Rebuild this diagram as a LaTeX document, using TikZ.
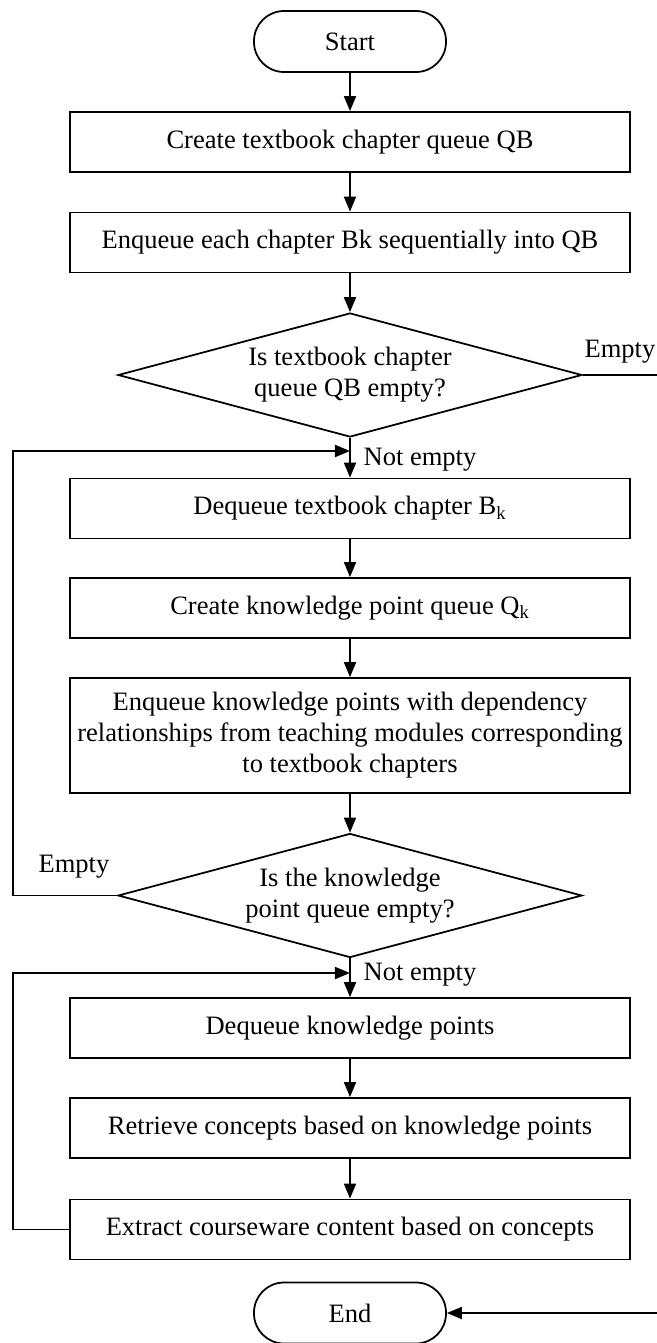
\documentclass[tikz,border=0pt]{standalone}
\usepackage{fontspec}
\setmainfont{Liberation Serif}
\usepackage{tikz}
\usetikzlibrary{arrows.meta, positioning, shapes.geometric}

\begin{document}
\begin{tikzpicture}[
  font=\fontsize{15.1pt}{17.6pt}\selectfont,
  proc/.style={draw, line width=1pt, minimum width=11.2cm, minimum height=1.2cm,
               align=center, inner sep=1pt},
  term/.style={draw, line width=1pt, rounded corners=0.6cm,
               minimum width=3.84cm, minimum height=1.22cm},
  decide/.style={draw, diamond, line width=1pt, aspect=3.74, inner sep=0pt,
                 minimum width=9.28cm, minimum height=2.48cm, align=center},
  arr/.style={-{Triangle[length=0.3cm, width=0.24cm]}, line width=1pt},
  lbl/.style={inner sep=1pt}
]
\useasboundingbox (-7,0) rectangle (6.14,-26.86);

\node[term]   (start) at (0,-0.83)  {Start};
\node[proc]   (mkqb)  at (0,-2.84)  {Create textbook chapter queue QB};
\node[proc]   (enqb)  at (0,-4.85)  {Enqueue each chapter Bk sequentially into QB};
\node[decide] (isqb)  at (0,-7.5)   {Is textbook chapter\\queue QB empty?};
\node[proc]   (deqb)  at (0,-10.17) {Dequeue textbook chapter B\textsubscript{k}};
\node[proc]   (mkqk)  at (0,-12.16) {Create knowledge point queue Q\textsubscript{k}};
\node[proc, minimum height=2.3cm] (enqk) at (0,-14.71)
  {Enqueue knowledge points with dependency\\relationships from teaching modules corresponding\\to textbook chapters};
\node[decide] (iskp)  at (0,-17.91) {Is the knowledge\\point queue empty?};
\node[proc]   (deqk)  at (0,-20.56) {Dequeue knowledge points};
\node[proc]   (conc)  at (0,-22.56) {Retrieve concepts based on knowledge points};
\node[proc]   (extr)  at (0,-24.59) {Extract courseware content based on concepts};
\node[term]   (fin)   at (0,-26.26) {End};

% junctions and loose ends
\coordinate (j1)   at (0,-9.02);
\coordinate (j2)   at (0,-19.46);
\coordinate (lx)   at (-6.74,0);
\coordinate (outR) at (6.14,-7.5);
\coordinate (inR)  at (6.14,-26.26);

\draw[arr] (start)--(mkqb);
\draw[arr] (mkqb)--(enqb);
\draw[arr] (enqb)--(isqb);
\draw[arr] (isqb)--(deqb);
\draw[arr] (deqb)--(mkqk);
\draw[arr] (mkqk)--(enqk);
\draw[arr] (enqk)--(iskp);
\draw[arr] (iskp)--(deqk);
\draw[arr] (deqk)--(conc);
\draw[arr] (conc)--(extr);

% exits and loops
\draw[line width=1pt] (isqb.east)--(outR);
\draw[arr] (inR)--(fin);
\draw[arr] (iskp.west)--(iskp.west -| lx) |- (j1);
\draw[arr] (extr.west)--(extr.west -| lx) |- (j2);

% branch labels
\node[lbl] (lbE1) at (5.4,-7.04)   {Empty};
\node[lbl] (lbN1) at (1.4,-9.2)    {Not empty};
\node[lbl] (lbE2) at (-5.52,-17.34) {Empty};
\node[lbl] (lbN2) at (1.4,-19.5)   {Not empty};
\end{tikzpicture}
\end{document}
